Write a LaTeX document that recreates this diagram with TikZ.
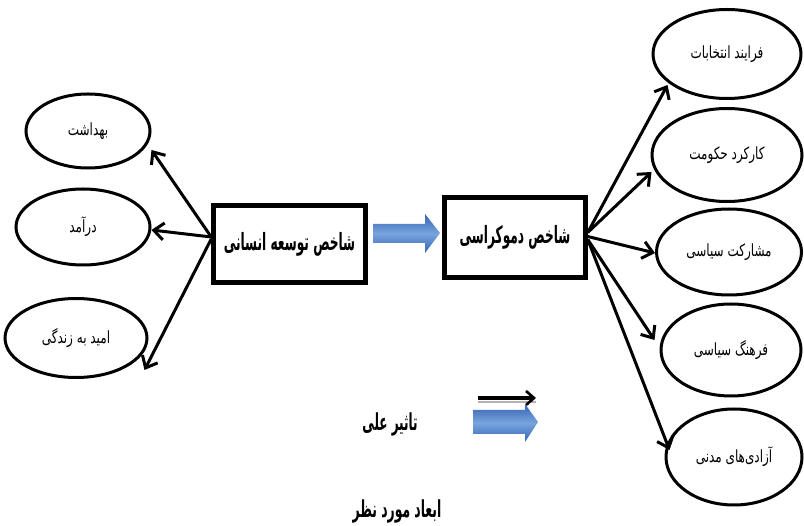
\documentclass[tikz,border=0pt]{standalone}
\usepackage{fontspec}
\usepackage{graphicx}
\usetikzlibrary{arrows.meta,shapes.geometric}
\TeXXeTstate=1
\newfontfamily\ar[Script=Arabic]{DejaVu Sans}
\definecolor{bluedark}{RGB}{52,98,178}
\definecolor{bluelight}{RGB}{120,165,222}
\newcommand{\etxt}[1]{\scalebox{1}[1.4]{\beginR #1\endR}}
\newcommand{\btxt}[1]{\scalebox{0.87}[1.7]{\beginR #1\endR}}
\begin{document}
\begin{tikzpicture}[x=1pt,y=-1pt,
  ell/.style={draw,ellipse,line width=3pt,inner sep=0pt,font=\ar\fontsize{12}{14}\selectfont},
  bx/.style={draw,rectangle,line width=4.5pt,inner sep=0pt,font=\ar\bfseries\fontsize{14}{16}\selectfont},
  conn/.style={line width=3pt,-{Straight Barb[length=10pt,width=17pt,line width=3pt]}},
  lbl/.style={font=\ar\bfseries\fontsize{13}{15}\selectfont}]
\useasboundingbox (0,0) rectangle (804,526);
% left ellipses
\node[ell,minimum width=124pt,minimum height=74pt] (l1) at (88,131) {\etxt{بهداشت}};
\node[ell,minimum width=134pt,minimum height=76pt] (l2) at (83,227) {\etxt{درآمد}};
\node[ell,minimum width=142pt,minimum height=79pt] (l3) at (76,338) {\etxt{امید به زندگی}};
% boxes
\node[bx,minimum width=152pt,minimum height=77pt] (hdi) at (289.5,244) {\btxt{شاخص توسعه انسانی}};
\node[bx,minimum width=141pt,minimum height=80pt] (dem) at (515,237.5) {\btxt{شاخص دموکراسی}};
% right ellipses
\node[ell,minimum width=148pt,minimum height=89pt] (r1) at (727,54) {\etxt{فرایند انتخابات}};
\node[ell,minimum width=150pt,minimum height=93pt] (r2) at (727,155) {\etxt{کارکرد حکومت}};
\node[ell,minimum width=145pt,minimum height=86pt] (r3) at (729,252) {\etxt{مشارکت سیاسی}};
\node[ell,minimum width=140pt,minimum height=92pt] (r4) at (731,350) {\etxt{فرهنگ سیاسی}};
\node[ell,minimum width=136pt,minimum height=96pt] (r5) at (734,457) {\etxt{آزادی‌های مدنی}};
% left connectors
\draw[conn] ([yshift=7pt]hdi.west) -- ([yshift=-19pt]l1.east);
\draw[conn] ([yshift=7pt]hdi.west) -- ([yshift=-3pt]l2.east);
\draw[conn] ([yshift=5pt]hdi.west) -- ([xshift=-4pt,yshift=-32pt]l3.east);
% right connectors
\draw[conn] ([yshift=5pt]dem.east) -- ([xshift=16pt,yshift=-31pt]r1.west);
\draw[conn] ([yshift=5pt]dem.east) -- ([xshift=1pt,yshift=-17pt]r2.west);
\draw[conn] ([yshift=1pt]dem.east) -- ([yshift=-1pt]r3.west);
\draw[conn] ([yshift=-2pt]dem.east) -- ([xshift=-5pt,yshift=10pt]r4.west);
\draw[conn] ([yshift=-2pt]dem.east) -- ([xshift=5pt,yshift=7pt]r5.west);
% big blue arrow between boxes
\shade[top color=bluedark,bottom color=bluedark,middle color=bluelight]
  (373,224) -- (425,224) -- (425,214) -- (440,233) -- (425,253) -- (425,243) -- (373,243) -- cycle;
% legend
\node[lbl] (t1) at (390,424) {\scalebox{0.92}[1.8]{\beginR تاثیر علی\endR}};
\node[lbl] (t2) at (397,511) {\scalebox{0.95}[1.8]{\beginR ابعاد مورد نظر\endR}};
\coordinate (ka) at (478,398);
\coordinate (kb) at (536,398);
\draw[gray!60,line width=1.2pt] ([yshift=-4pt]ka) -- ([yshift=-4pt]kb);
\draw[line width=4pt,-{Straight Barb[length=8pt,width=14pt,line width=2.6pt]}] (ka) -- (kb);
\shade[top color=bluedark,bottom color=bluedark,middle color=bluelight]
  (473,410) -- (525,410) -- (525,404) -- (538,422) -- (525,442) -- (525,434) -- (473,434) -- cycle;
\end{tikzpicture}
\end{document}
